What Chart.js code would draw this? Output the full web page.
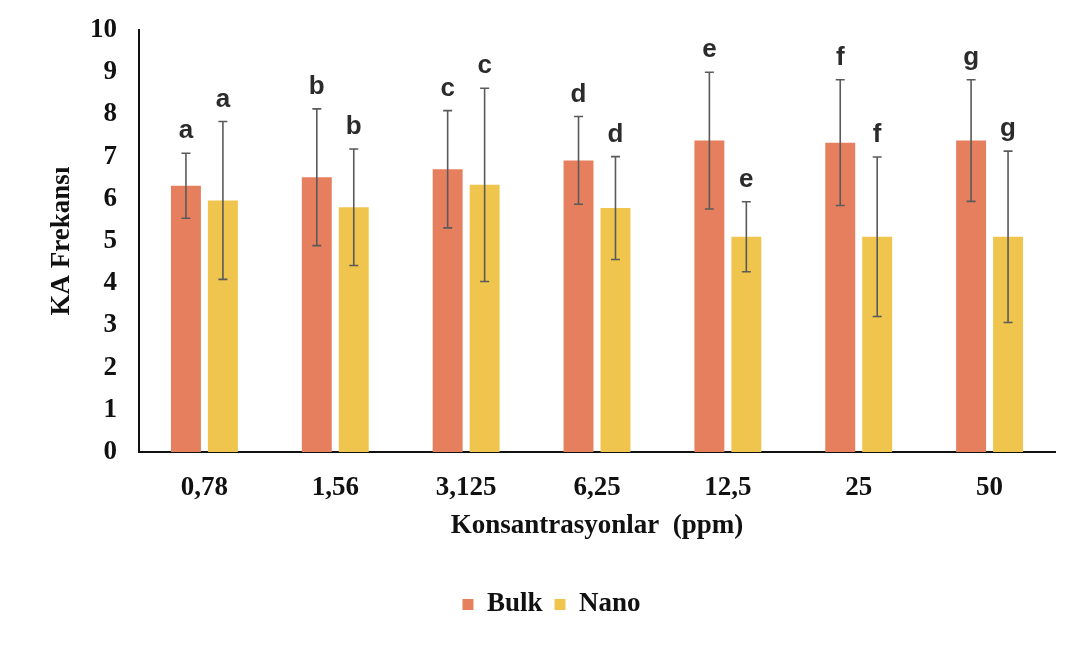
<!DOCTYPE html>
<html>
<head>
<meta charset="utf-8">
<script src="https://cdn.jsdelivr.net/npm/chart.js@4.4.0/dist/chart.umd.min.js"></script>
<style>
  html, body { margin: 0; padding: 0; background: #fff; }
</style>
</head>
<body>
<canvas id="kaChart" width="1088" height="648"></canvas>
<script>
const categories = ['0,78', '1,56', '3,125', '6,25', '12,5', '25', '50'];
const bulk = [6.31, 6.51, 6.70, 6.91, 7.38, 7.33, 7.38];
const bulkSd = [0.77, 1.62, 1.39, 1.04, 1.62, 1.49, 1.44];
const nano = [5.96, 5.80, 6.33, 5.78, 5.10, 5.10, 5.10];
const nanoSd = [1.87, 1.38, 2.29, 1.22, 0.83, 1.89, 2.03];
const letters = ['a', 'b', 'c', 'd', 'e', 'f', 'g'];

const serif = '"Liberation Serif", "Times New Roman", serif';

// error bars + significance letters
const errorBars = {
    id: 'errorBars',
    afterDatasetsDraw(chart) {
        const ctx = chart.ctx;
        const y = chart.scales.y;
        chart.data.datasets.forEach((ds, i) => {
            const meta = chart.getDatasetMeta(i);
            meta.data.forEach((bar, j) => {
                const v = ds.data[j], sd = ds.sd[j];
                const top = y.getPixelForValue(v + sd);
                const bot = y.getPixelForValue(v - sd);
                ctx.save();
                ctx.strokeStyle = '#5a5a5a';
                ctx.lineWidth = 1.6;
                ctx.beginPath();
                ctx.moveTo(bar.x, top); ctx.lineTo(bar.x, bot);
                ctx.moveTo(bar.x - 4.5, top); ctx.lineTo(bar.x + 4.5, top);
                ctx.moveTo(bar.x - 4.5, bot); ctx.lineTo(bar.x + 4.5, bot);
                ctx.stroke();
                ctx.fillStyle = '#2b2b2b';
                ctx.font = 'bold 26px "Liberation Sans", Arial, sans-serif';
                ctx.textAlign = 'center';
                ctx.textBaseline = 'alphabetic';
                ctx.fillText(letters[j], bar.x, top - 15);
                ctx.restore();
            });
        });
    }
};

// nudge the legend a little to the right, like the original
const legendShift = {
    id: 'legendShift',
    afterLayout(chart) {
        chart.legend.left += 24;
        chart.legend.right += 24;
    }
};

new Chart(document.getElementById('kaChart'), {
    type: 'bar',
    data: {
        labels: categories,
        datasets: [{
            label: 'Bulk',
            data: bulk,
            sd: bulkSd,
            backgroundColor: '#E67F5E'
        }, {
            label: 'Nano',
            data: nano,
            sd: nanoSd,
            backgroundColor: '#EFC54E'
        }]
    },
    options: {
        responsive: false,
        animation: false,
        devicePixelRatio: 1,
        categoryPercentage: 0.565,
        barPercentage: 0.81,
        layout: { padding: { left: 0, top: 30, right: 33, bottom: 20 } },
        plugins: {
            tooltip: { enabled: false },
            legend: {
                position: 'bottom',
                labels: {
                    color: '#111',
                    font: { family: serif, size: 27, weight: 'bold' },
                    boxWidth: 11,
                    boxHeight: 11,
                    padding: 12
                }
            }
        },
        scales: {
            x: {
                grid: { display: false, drawTicks: false },
                border: { color: '#111', width: 2 },
                ticks: {
                    color: '#111',
                    padding: 20,
                    font: { family: serif, size: 27, weight: 'bold' }
                },
                title: {
                    display: true,
                    text: 'Konsantrasyonlar  (ppm)',
                    color: '#111',
                    padding: { top: 4, bottom: 37 },
                    font: { family: serif, size: 27, weight: 'bold' }
                },
                afterFit(scale) { scale.height = 127; }
            },
            y: {
                min: 0,
                max: 10,
                grid: { display: false, drawTicks: false },
                border: { color: '#111', width: 2 },
                ticks: {
                    stepSize: 1,
                    color: '#111',
                    padding: 22,
                    font: { family: serif, size: 27, weight: 'bold' }
                },
                title: {
                    display: true,
                    text: 'KA Frekansı',
                    color: '#111',
                    padding: { top: 46, bottom: 0 },
                    font: { family: serif, size: 27, weight: 'bold' }
                },
                afterFit(scale) {
                    scale.width = 139;
                    scale.paddingTop = 8;
                    scale.paddingBottom = 8;
                }
            }
        }
    },
    plugins: [errorBars, legendShift]
});
</script>
</body>
</html>
